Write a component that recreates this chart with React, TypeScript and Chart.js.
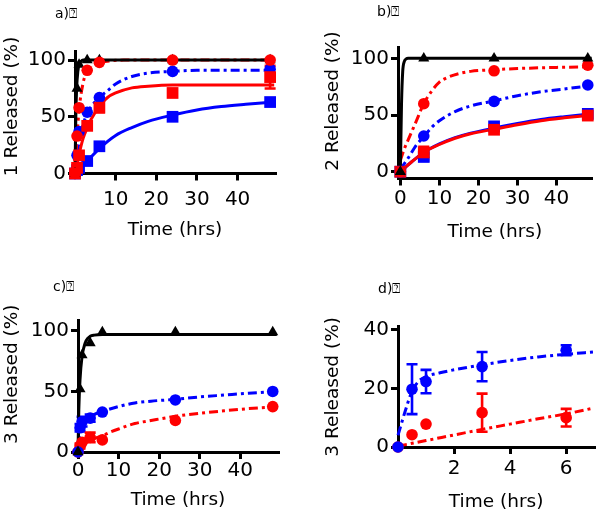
import React, { useEffect, useRef } from "react";
import { Chart, registerables } from "chart.js";
Chart.register(...registerables);

const RED = "#ff0000";
const BLUE = "#0000ff";
const BLACK = "#000000";
const FONT = "'DejaVu Sans', sans-serif";

// ---------- Panel a (compound 1) ----------
const timeA = [0, 0.5, 1, 3, 6, 24, 48];
const aBlackTri = [0, 75, 96, 100, 100, 100, 100];
const aRedCircle = [0, 33, 58, 91, 98, 100, 100];
const aRedSquare = [0, 5, 16, 42, 58, 71, 85];
const aRedSquareErr = [0, 0, 0, 0, 4, 0, 10];
const aBlueCircle = [0, 16, 37, 54, 67, 90, 92];
const aBlueSquare = [0, 3, 5, 11, 24, 50, 63];
const aFitBlackX = [0, 0.2, 0.4, 0.7, 1, 1.5, 2, 3, 49];
const aFitBlackY = [0, 50, 75, 90, 96, 99, 100, 100, 100];
const aFitRedDashX = [0, 0.5, 1, 2, 3, 4, 6, 8, 12, 49];
const aFitRedDashY = [0, 33, 56, 80, 90, 94, 98, 99, 100, 100];
const aFitRedSolidX = [0, 1, 2, 3, 4, 6, 8, 10, 14, 18, 24, 49];
const aFitRedSolidY = [0, 17, 31, 40, 48, 59, 67, 71, 75.5, 77, 78, 78];
const aFitBlueDashX = [0, 1, 2, 3, 4, 6, 8, 10, 14, 18, 24, 30, 49];
const aFitBlueDashY = [0, 28, 43, 53, 59, 67, 73, 79, 85.5, 88.5, 90, 91, 91];
const aFitBlueSolidX = [0, 3, 6, 10, 14, 18, 24, 30, 36, 42, 49];
const aFitBlueSolidY = [0, 11, 22, 33.5, 40.5, 46, 51.5, 56, 59, 61, 63];
const aXTicks = [10, 20, 30, 40];
const aYTicks = [0, 50, 100];

// ---------- Panel b (compound 2) ----------
const timeB = [0, 6, 24, 48];
const bBlackTri = [0, 100, 100, 100];
const bRedCircle = [0, 60, 89, 94];
const bBlueCircle = [0, 31.5, 62, 76.5];
const bRedSquare = [0, 17, 37, 49.5];
const bRedSquareErr = [0, 5, 0, 0];
const bBlueSquare = [0, 13, 40, 51];
const bBlueSquareErr = [0, 3, 0, 0];
const bFitBlackX = [0, 0.3, 0.6, 1, 1.5, 2, 49];
const bFitBlackY = [0, 60, 88, 97, 99.5, 100, 100];
const bFitRedDashX = [0, 1, 2, 3, 4, 6, 8, 10, 12, 15, 18, 24, 30, 40, 49];
const bFitRedDashY = [10, 20, 28, 36, 44, 60, 71, 79, 83, 86.5, 88.5, 90, 91, 92, 92.5];
const bFitBlueDashX = [0, 2, 4, 6, 8, 10, 14, 18, 24, 30, 36, 42, 49];
const bFitBlueDashY = [2, 12, 23, 31, 39, 45, 53, 58, 62.5, 67, 70.5, 73, 76];
const bFitRedSolidX = [0, 3, 6, 10, 14, 18, 24, 30, 36, 42, 49];
const bFitRedSolidY = [0, 9, 17, 24, 29.5, 33.5, 37.5, 41.5, 45, 47.5, 50];
const bFitBlueSolidY = [0, 9, 17, 24.5, 30, 34, 38.5, 42.5, 46, 48.5, 51];
const bXTicks = [0, 10, 20, 30, 40];
const bYTicks = [0, 50, 100];

// ---------- Panel c (compound 3) ----------
const timeC = [0, 0.5, 1, 3, 6, 24, 48];
const cBlackTri = [0, 52, 80, 90, 99, 99, 99];
const cBlueCircle = [0, 20, 25, 28, 33, 43, 50];
const cBlueCircleErr = [0, 3, 4, 3, 0, 0, 0];
const cRedCircle = [0, 5, 8, 12, 10, 26, 37.5];
const cRedCircleErr = [0, 2, 0, 4, 0, 0, 0];
const cFitBlackX = [0, 0.2, 0.5, 1, 1.5, 2, 3, 4, 6, 49];
const cFitBlackY = [0, 35, 60, 79, 87, 92, 95.5, 96.5, 97, 97];
const cFitBlueX = [0, 0.25, 0.5, 1, 2, 3, 4, 6, 10, 14, 18, 24, 30, 36, 42, 49];
const cFitBlueY = [0, 12, 19, 23, 27, 29.5, 31, 33.5, 37.5, 40.5, 42, 43.5, 45.5, 47, 48.5, 50];
const cFitRedX = [0, 0.5, 1, 2, 3, 4, 6, 8, 10, 14, 18, 24, 30, 36, 42, 49];
const cFitRedY = [0, 3, 5, 7.5, 9.5, 11, 13.5, 16.5, 19, 23.5, 26, 29.5, 32, 34, 35.8, 37.3];
const cXTicks = [0, 10, 20, 30, 40];
const cYTicks = [0, 50, 100];

// ---------- Panel d (compound 3, early times) ----------
const timeD = [0, 0.5, 1, 3, 6];
const dBlueCircle = [0, 19.7, 22.3, 27.4, 33];
const dBlueCircleErr = [0, 8.5, 4, 5, 1.7];
const dRedCircle = [0, 4.2, 7.8, 11.7, 10];
const dRedCircleErr = [0, 0, 0, 6.5, 3];
const dFitBlueX = [0, 0.25, 0.5, 0.75, 1, 1.5, 2, 3, 4, 5, 6, 7];
const dFitBlueY = [4, 12, 19, 22.5, 24, 25.3, 26.3, 28, 29.5, 30.7, 31.6, 32.4];
const dFitRedX = [0, 1, 2, 3, 4, 5, 6, 7];
const dFitRedY = [0.3, 2.2, 4.1, 6, 7.8, 9.6, 11.3, 13.3];
const dXTicks = [2, 4, 6];
const dYTicks = [0, 20, 40];

const pts = (xs: number[], ys: number[]) => xs.map((x, i) => ({ x, y: ys[i] }));

function markers(xs: number[], ys: number[], color: string, style: string, errors?: number[]) {
  const radius = style === "rect" ? 8.3 : style === "triangle" ? 6.4 : 5.8;
  return {
    type: "line",
    data: pts(xs, ys),
    showLine: false,
    pointStyle: style,
    pointRadius: radius,
    pointBackgroundColor: color,
    pointBorderColor: color,
    pointBorderWidth: 0,
    borderColor: color,
    backgroundColor: color,
    errors,
    clip: false,
  };
}

function fit(xs: number[], ys: number[], color: string, dashed: boolean) {
  return {
    type: "line",
    data: pts(xs, ys),
    showLine: true,
    pointRadius: 0,
    borderColor: color,
    borderWidth: 3,
    borderDash: dashed ? [9, 4, 3, 4] : [],
    cubicInterpolationMode: "monotone",
    fill: false,
    clip: false,
  };
}

const errorBarPlugin = {
  id: "errbars",
  beforeDatasetsDraw(chart: any) {
    const ctx = chart.ctx;
    const xs = chart.scales.x;
    const ys = chart.scales.y;
    chart.data.datasets.forEach((ds: any) => {
      if (!ds.errors) return;
      ctx.save();
      ctx.strokeStyle = ds.pointBackgroundColor;
      ctx.lineWidth = 2.6;
      ds.data.forEach((p: any, i: number) => {
        const e = ds.errors[i];
        if (!e) return;
        const px = xs.getPixelForValue(p.x);
        const y1 = ys.getPixelForValue(p.y + e);
        const y2 = ys.getPixelForValue(p.y - e);
        ctx.beginPath();
        ctx.moveTo(px, y1);
        ctx.lineTo(px, y2);
        ctx.moveTo(px - 5.5, y1);
        ctx.lineTo(px + 5.5, y1);
        ctx.moveTo(px - 5.5, y2);
        ctx.lineTo(px + 5.5, y2);
        ctx.stroke();
      });
      ctx.restore();
    });
  },
};

type PanelCfg = {
  left: number;
  top: number;
  w: number;
  h: number;
  area: { left: number; right: number; top: number; bottom: number };
  xMin: number;
  xMax: number;
  yMin: number;
  yMax: number;
  xTicks: number[];
  yTicks: number[];
  yTitle: string;
  xTitlePad: number;
  yTitlePad: number;
  xTickPad: number;
  datasets: any[];
};

function Panel({ cfg }: { cfg: PanelCfg }) {
  const ref = useRef<HTMLCanvasElement>(null);
  useEffect(() => {
    if (!ref.current) return;
    const tickFont = { family: FONT, size: 20 };
    const titleFont = { family: FONT, size: 18.5 };
    const axisGrid = {
      display: true,
      drawOnChartArea: false,
      drawTicks: true,
      tickLength: 7,
      lineWidth: 3,
      color: BLACK,
    };
    const axisBorder = { display: true, width: 3, color: BLACK };
    const chart = new Chart(ref.current, {
      type: "line",
      data: { datasets: cfg.datasets },
      plugins: [errorBarPlugin],
      options: {
        responsive: false,
        animation: false,
        layout: {
          padding: { left: 0, right: cfg.w - cfg.area.right, top: cfg.area.top, bottom: 0 },
        },
        plugins: { legend: { display: false }, tooltip: { enabled: false }, title: { display: false } },
        scales: {
          x: {
            type: "linear",
            min: cfg.xMin,
            max: cfg.xMax,
            afterBuildTicks: (s: any) => {
              s.ticks = cfg.xTicks.map((v) => ({ value: v }));
            },
            afterFit: (s: any) => {
              s.height = cfg.h - cfg.area.bottom;
            },
            grid: axisGrid,
            border: axisBorder,
            ticks: { font: tickFont, color: BLACK, padding: cfg.xTickPad, maxRotation: 0 },
            title: {
              display: true,
              text: "Time (hrs)",
              font: titleFont,
              color: BLACK,
              padding: { top: 0, bottom: cfg.xTitlePad },
            },
          },
          y: {
            type: "linear",
            min: cfg.yMin,
            max: cfg.yMax,
            afterBuildTicks: (s: any) => {
              s.ticks = cfg.yTicks.map((v) => ({ value: v }));
            },
            afterFit: (s: any) => {
              s.width = cfg.area.left;
            },
            grid: axisGrid,
            border: axisBorder,
            ticks: { font: tickFont, color: BLACK, padding: 2 },
            title: {
              display: true,
              text: cfg.yTitle,
              font: titleFont,
              color: BLACK,
              padding: { top: cfg.yTitlePad, bottom: 0 },
            },
          },
        },
      } as any,
    } as any);
    return () => chart.destroy();
  }, []);
  return (
    <canvas
      ref={ref}
      width={cfg.w}
      height={cfg.h}
      style={{ position: "absolute", left: cfg.left, top: cfg.top, width: cfg.w, height: cfg.h }}
    />
  );
}

const panels: PanelCfg[] = [
  {
    left: 0, top: 0, w: 300, h: 260,
    area: { left: 75, right: 275, top: 51, bottom: 173.5 },
    xMin: 0, xMax: 49.2, yMin: 0, yMax: 108,
    xTicks: aXTicks, yTicks: aYTicks, yTitle: "  1 Released (%)",
    xTitlePad: 19, yTitlePad: 1, xTickPad: 7,
    datasets: [
      markers(timeA, aRedCircle, RED, "circle"),
      markers(timeA, aBlackTri, BLACK, "triangle"),
      markers(timeA, aRedSquare, RED, "rect", aRedSquareErr),
      markers(timeA, aBlueCircle, BLUE, "circle"),
      markers(timeA, aBlueSquare, BLUE, "rect"),
      fit(aFitBlackX, aFitBlackY, BLACK, false),
      fit(aFitRedDashX, aFitRedDashY, RED, true),
      fit(aFitRedSolidX, aFitRedSolidY, RED, false),
      fit(aFitBlueDashX, aFitBlueDashY, BLUE, true),
      fit(aFitBlueSolidX, aFitBlueSolidY, BLUE, false),
    ],
  },
  {
    left: 300, top: 0, w: 300, h: 260,
    area: { left: 98, right: 300, top: 47, bottom: 178.5 },
    xMin: -0.6, xMax: 49, yMin: -6, yMax: 110,
    xTicks: bXTicks, yTicks: bYTicks, yTitle: "    2 Released (%)",
    xTitlePad: 17, yTitlePad: 22, xTickPad: 1,
    datasets: [
      markers(timeB, bBlackTri, BLACK, "triangle"),
      markers(timeB, bRedCircle, RED, "circle"),
      markers(timeB, bBlueCircle, BLUE, "circle"),
      markers(timeB, bRedSquare, RED, "rect", bRedSquareErr),
      markers(timeB, bBlueSquare, BLUE, "rect", bBlueSquareErr),
      fit(bFitBlackX, bFitBlackY, BLACK, false),
      fit(bFitRedDashX, bFitRedDashY, RED, true),
      fit(bFitBlueDashX, bFitBlueDashY, BLUE, true),
      fit(bFitRedSolidX, bFitRedSolidY, RED, false),
      fit(bFitRedSolidX, bFitBlueSolidY, BLUE, false),
    ],
  },
  {
    left: 0, top: 260, w: 300, h: 259,
    area: { left: 78, right: 278, top: 60, bottom: 192 },
    xMin: 0, xMax: 49.3, yMin: 0, yMax: 109,
    xTicks: cXTicks, yTicks: cYTicks, yTitle: "    3 Released (%)",
    xTitlePad: 8, yTitlePad: 1, xTickPad: 0,
    datasets: [
      markers(timeC, cBlackTri, BLACK, "triangle"),
      markers(timeC, cBlueCircle, BLUE, "circle", cBlueCircleErr),
      markers(timeC, cRedCircle, RED, "circle", cRedCircleErr),
      fit(cFitBlackX, cFitBlackY, BLACK, false),
      fit(cFitBlueX, cFitBlueY, BLUE, true),
      fit(cFitRedX, cFitRedY, RED, true),
    ],
  },
  {
    left: 300, top: 260, w: 300, h: 259,
    area: { left: 98, right: 298, top: 66.7, bottom: 187 },
    xMin: 0, xMax: 7, yMin: 0, yMax: 41,
    xTicks: dXTicks, yTicks: dYTicks, yTitle: "3 Released (%)",
    xTitlePad: 6, yTitlePad: 22, xTickPad: 3,
    datasets: [
      markers(timeD, dBlueCircle, BLUE, "circle", dBlueCircleErr),
      markers(timeD, dRedCircle, RED, "circle", dRedCircleErr),
      fit(dFitBlueX, dFitBlueY, BLUE, true),
      fit(dFitRedX, dFitRedY, RED, true),
    ],
  },
];

const panelLabels = [
  { text: "a)\u2370", left: 55, top: 3.5 },
  { text: "b)\u2370", left: 377, top: 2 },
  { text: "c)\u2370", left: 53, top: 277 },
  { text: "d)\u2370", left: 378, top: 279 },
];

export default function App() {
  return (
    <div style={{ position: "absolute", left: 0, top: 0, width: 600, height: 519, background: "#fff", overflow: "hidden" }}>
      {panels.map((p, i) => (
        <Panel key={i} cfg={p} />
      ))}
      {panelLabels.map((l, i) => (
        <div
          key={"l" + i}
          style={{
            position: "absolute",
            left: l.left,
            top: l.top,
            fontFamily: FONT,
            fontSize: 14,
            lineHeight: "18px",
            color: BLACK,
            whiteSpace: "nowrap",
          }}
        >
          {l.text}
        </div>
      ))}
    </div>
  );
}
